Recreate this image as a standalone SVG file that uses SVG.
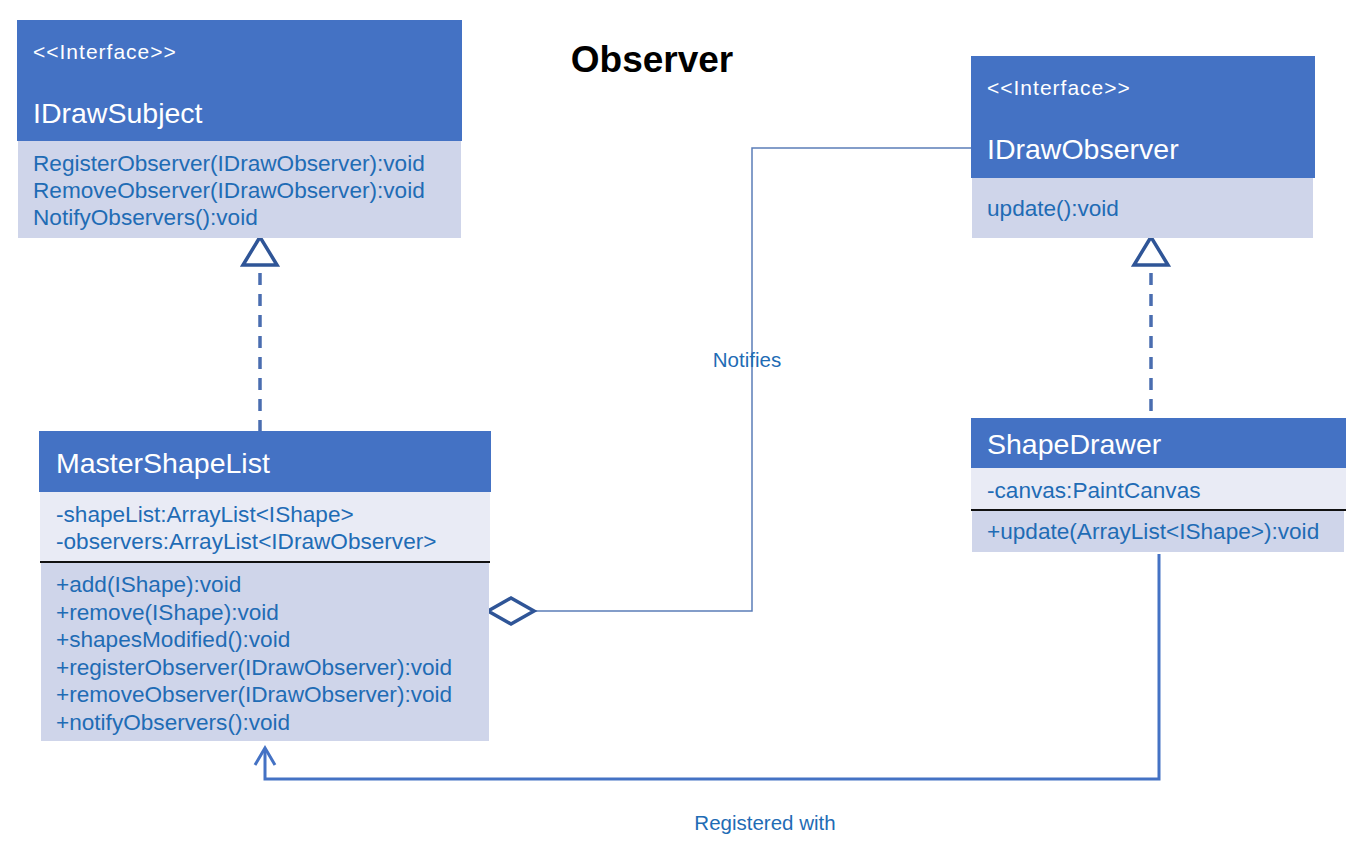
<svg xmlns="http://www.w3.org/2000/svg" width="1371" height="867" viewBox="0 0 1371 867">
<style>
.hdr{fill:#4472C4}
.ops{fill:#CFD5EA}
.att{fill:#E9EBF5}
.stereo{font-family:"Liberation Sans",Arial,sans-serif;font-size:21px;letter-spacing:1px;fill:#FFFFFF}
.name{font-family:"Liberation Sans",Arial,sans-serif;font-size:28.5px;fill:#FFFFFF}
.mem{font-family:"Liberation Sans",Arial,sans-serif;font-size:22.6px;fill:#1F6CB5}
.lbl{font-family:"Liberation Sans",Arial,sans-serif;font-size:20.5px;fill:#1F6CB5}
.sep{stroke:#111111;stroke-width:2}
.dash{fill:none;stroke:#4A6DB0;stroke-width:3.5;stroke-dasharray:12 9}
.head{fill:#FFFFFF;stroke:#2F5597;stroke-width:3.5;stroke-linejoin:miter}
</style>
<rect width="1371" height="867" fill="#FFFFFF"/>
<text x="652" y="72" text-anchor="middle" font-family="Liberation Sans,Arial,sans-serif" font-weight="bold" font-size="37" fill="#000000">Observer</text>

<g id="connectors">
  <line class="dash" x1="260" y1="273" x2="260" y2="431"/>
  <polygon class="head" points="260,237 243,265 277,265"/>
  <line class="dash" x1="1151" y1="273" x2="1151" y2="418"/>
  <polygon class="head" points="1151,237 1134,265 1168,265"/>
  <polyline points="534,611 752,611 752,148 971,148" fill="none" stroke="#5B7DB8" stroke-width="1.5"/>
  <polygon class="head" points="488,611 511,598 534,611 511,624"/>
  <polyline points="1159,554 1159,779 265,779 265,749" fill="none" stroke="#4472C4" stroke-width="3"/>
  <polyline points="255,765 265,748 275,765" fill="none" stroke="#4472C4" stroke-width="3"/>
  <text class="lbl" x="747" y="367" text-anchor="middle">Notifies</text>
  <text class="lbl" x="765" y="830" text-anchor="middle">Registered with</text>
</g>

<g id="IDrawSubject">
  <rect class="hdr" x="17" y="20" width="445" height="121"/>
  <rect class="ops" x="18" y="141" width="443" height="97"/>
  <text class="stereo" x="33" y="59">&lt;&lt;Interface&gt;&gt;</text>
  <text class="name" x="33" y="123">IDrawSubject</text>
  <text class="mem" x="33" y="171">RegisterObserver(IDrawObserver):void</text>
  <text class="mem" x="33" y="198">RemoveObserver(IDrawObserver):void</text>
  <text class="mem" x="33" y="225">NotifyObservers():void</text>
</g>

<g id="MasterShapeList">
  <rect class="hdr" x="39" y="431" width="452" height="61"/>
  <rect class="att" x="40" y="492" width="450" height="70"/>
  <rect class="ops" x="41" y="563" width="448" height="178"/>
  <line class="sep" x1="40" y1="562" x2="490" y2="562"/>
  <text class="name" x="56" y="473">MasterShapeList</text>
  <text class="mem" x="56" y="522">-shapeList:ArrayList&lt;IShape&gt;</text>
  <text class="mem" x="56" y="549">-observers:ArrayList&lt;IDrawObserver&gt;</text>
  <text class="mem" x="56" y="592">+add(IShape):void</text>
  <text class="mem" x="56" y="620">+remove(IShape):void</text>
  <text class="mem" x="56" y="647">+shapesModified():void</text>
  <text class="mem" x="56" y="675">+registerObserver(IDrawObserver):void</text>
  <text class="mem" x="56" y="702">+removeObserver(IDrawObserver):void</text>
  <text class="mem" x="56" y="730">+notifyObservers():void</text>
</g>

<g id="IDrawObserver">
  <rect class="hdr" x="971" y="56" width="344" height="122"/>
  <rect class="ops" x="972" y="178" width="341" height="60"/>
  <text class="stereo" x="987" y="95">&lt;&lt;Interface&gt;&gt;</text>
  <text class="name" x="987" y="159">IDrawObserver</text>
  <text class="mem" x="987" y="216">update():void</text>
</g>

<g id="ShapeDrawer">
  <rect class="hdr" x="971" y="418" width="375" height="50"/>
  <rect class="att" x="971" y="468" width="375" height="42"/>
  <rect class="ops" x="972" y="511" width="372" height="41"/>
  <line class="sep" x1="971" y1="510" x2="1346" y2="510"/>
  <text class="name" x="987" y="454">ShapeDrawer</text>
  <text class="mem" x="987" y="498">-canvas:PaintCanvas</text>
  <text class="mem" x="987" y="539">+update(ArrayList&lt;IShape&gt;):void</text>
</g>
</svg>
